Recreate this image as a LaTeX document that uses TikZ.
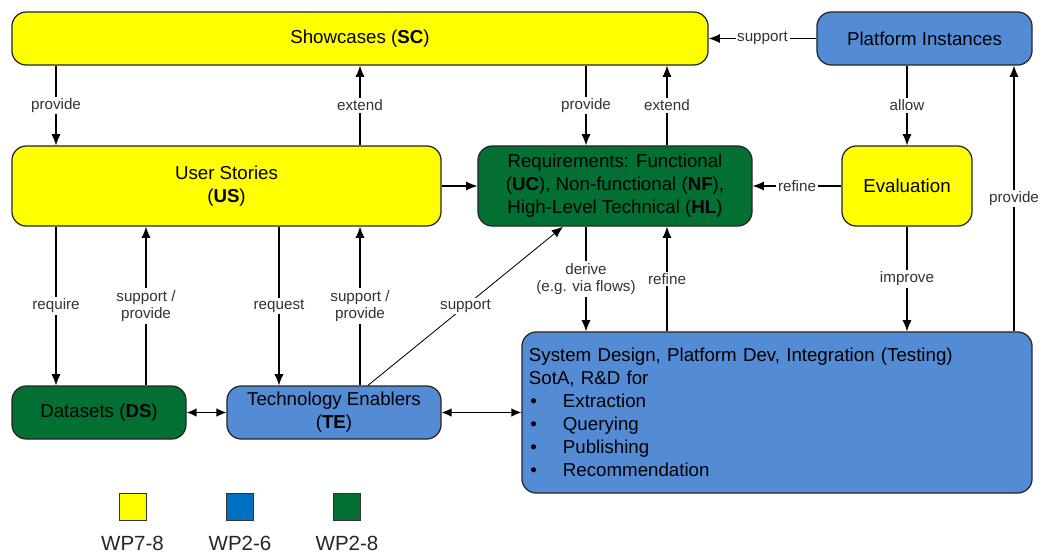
\documentclass[tikz,border=0pt]{standalone}
\usepackage{fontspec}
\setmainfont{Liberation Sans}
\usetikzlibrary{arrows.meta}
\definecolor{wpyellow}{HTML}{FFFF00}
\definecolor{wpblue}{HTML}{538CD5}
\definecolor{wpgreen}{HTML}{037033}
\definecolor{legblue}{HTML}{0070C0}

\begin{document}
\begin{tikzpicture}[x=0.025cm,y=-0.025cm,
  box/.style={draw=black!85, line width=0.9pt, rounded corners=0.36cm, align=center,
              inner sep=0pt, font=\fontsize{13.3}{16.3}\selectfont},
  yel/.style={box, fill=wpyellow},
  blu/.style={box, fill=wpblue},
  grn/.style={box, fill=wpgreen},
  arr/.style={line width=0.75pt, -{Latex[length=8pt,width=6.5pt]}},
  dbl/.style={line width=0.75pt, {Latex[length=7pt,width=6pt]}-{Latex[length=7pt,width=6pt]}},
  lbl/.style={fill=white, inner sep=1.2pt, font=\fontsize{10.8}{12.5}\selectfont,
              text=black!80, align=center},
  legsq/.style={draw=black!80, line width=0.7pt, minimum size=0.675cm, inner sep=0pt},
  legtx/.style={font=\fontsize{14.6}{16}\selectfont, text=black!85, inner sep=0pt}
]
\useasboundingbox (0,0) rectangle (1041,554);

% boxes
\node[yel, minimum width=17.4cm, minimum height=1.325cm] (sc) at (360,38.5) {Showcases (\textbf{SC})};
\node[blu, minimum width=5.375cm, minimum height=1.325cm] (pi) at (924.5,38.5) {Platform Instances};
\node[yel, minimum width=10.725cm, minimum height=2cm] (us) at (226.5,186) {User Stories\\(\textbf{US})};
\node[grn, minimum width=6.85cm, minimum height=2cm] (req) at (615,186)
  {Requirements: Functional\\(\textbf{UC}), Non-functional (\textbf{NF}),\\High-Level Technical (\textbf{HL})};
\node[yel, minimum width=3.25cm, minimum height=2cm] (ev) at (907,186) {Evaluation};
\node[grn, minimum width=4.35cm, minimum height=1.325cm] (ds) at (99,412.5) {Datasets (\textbf{DS})};
\node[blu, minimum width=5.35cm, minimum height=1.325cm] (te) at (334,412.5) {Technology Enablers\\(\textbf{TE})};
\node[blu, minimum width=12.75cm, minimum height=4.025cm, inner xsep=0.175cm,
      text width=12.4cm, align=left] (sd) at (777,412.5)
  {System Design, Platform Dev, Integration (Testing)\\
   SotA, R\&D for\\
   \makebox[0.85cm][l]{\hspace{1pt}•}Extraction\\
   \makebox[0.85cm][l]{\hspace{1pt}•}Querying\\
   \makebox[0.85cm][l]{\hspace{1pt}•}Publishing\\
   \makebox[0.85cm][l]{\hspace{1pt}•}Recommendation};

% column positions of the vertical connectors
\coordinate (xa) at (56,0);
\coordinate (xb) at (146,0);
\coordinate (xc) at (279,0);
\coordinate (xd) at (360,0);
\coordinate (xe) at (586,0);
\coordinate (xf) at (667,0);
\coordinate (xg) at (907,0);
\coordinate (xh) at (1014,0);
\coordinate (xi) at (368,0);
\coordinate (xj) at (563,0);

% top row
\draw[arr] (sc.south -| xa) -- node[lbl]{provide} (us.north -| xa);
\draw[arr] (us.north -| xd) -- node[lbl]{extend} (sc.south -| xd);
\draw[arr] (sc.south -| xe) -- node[lbl]{provide} (req.north -| xe);
\draw[arr] (req.north -| xf) -- node[lbl]{extend} (sc.south -| xf);
\draw[arr] (pi.west) -- node[lbl]{support} (sc.east |- pi.west);
\draw[arr] (pi.south -| xg) -- node[lbl]{allow} (ev.north -| xg);

% middle row
\draw[arr] (us.east) -- (req.west);
\draw[arr] (ev.west) -- node[lbl]{refine} (req.east);
\draw[arr] (ev.south -| xg) -- node[lbl]{improve} (sd.north -| xg);
\draw[arr] (sd.north -| xh) -- node[lbl]{provide} (pi.south -| xh);
\draw[arr] (req.south -| xe) -- node[lbl]{derive\\(e.g. via flows)} (sd.north -| xe);
\draw[arr] (sd.north -| xf) -- node[lbl]{refine} (req.south -| xf);

% lower row
\draw[arr] (us.south -| xa) -- node[lbl]{require} (ds.north -| xa);
\draw[arr] (ds.north -| xb) -- node[lbl]{support /\\provide} (us.south -| xb);
\draw[arr] (us.south -| xc) -- node[lbl]{request} (te.north -| xc);
\draw[arr] (te.north -| xd) -- node[lbl]{support /\\provide} (us.south -| xd);
\draw[arr, line width=0.6pt] (te.north -| xi) -- node[lbl]{support} (req.south -| xj);
\draw[dbl] (ds.east) -- (te.west);
\draw[dbl] (te.east) -- (sd.west |- te.east);

% legend
\node[legsq, fill=wpyellow] (l1) at (132.5,506.5) {};
\node[legsq, fill=legblue] (l2) at (240,506.5) {};
\node[legsq, fill=wpgreen] (l3) at (347,506.5) {};
\node[legtx, anchor=base] (t1) at (132.5,550) {WP7-8};
\node[legtx, anchor=base] (t2) at (240,550) {WP2-6};
\node[legtx, anchor=base] (t3) at (347,550) {WP2-8};
\end{tikzpicture}
\end{document}
